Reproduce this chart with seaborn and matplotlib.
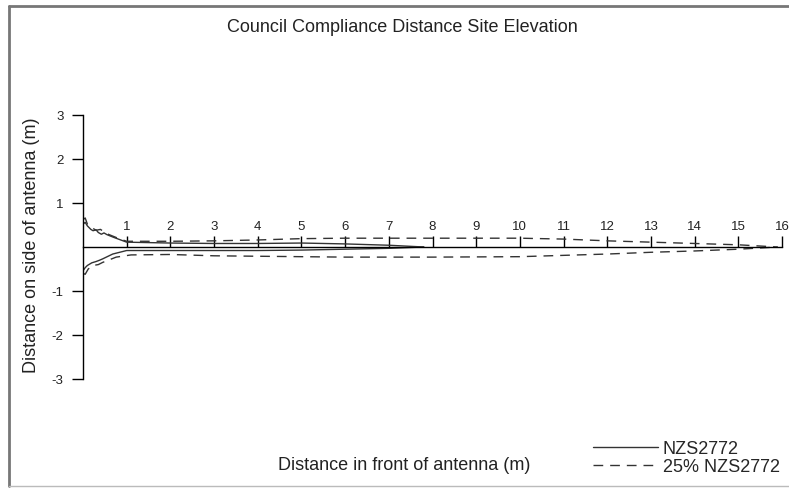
import numpy as np
import pandas as pd
import matplotlib
matplotlib.use("Agg")
import matplotlib.pyplot as plt
from matplotlib.lines import Line2D
import seaborn as sns

sns.set_style("white")
plt.rcParams['font.family'] = ['Liberation Sans', 'DejaVu Sans']
plt.rcParams['axes.unicode_minus'] = False

# NZS2772 compliance boundary (solid), upper and lower side of antenna
nzs_upper_x = [0, 0.05, 0.1, 0.18, 0.23, 0.3, 0.35, 0.42, 0.48, 0.55, 0.7, 1.0, 2, 3, 4, 5, 6, 7, 7.8]
nzs_upper_y = [0.52, 0.56, 0.48, 0.40, 0.37, 0.39, 0.33, 0.29, 0.32, 0.28, 0.22, 0.11, 0.09, 0.08, 0.08, 0.09, 0.07, 0.04, 0.0]
nzs_lower_x = [0, 0.05, 0.1, 0.2, 0.3, 0.38, 0.45, 0.68, 1.0, 2, 3, 4, 5, 6, 7, 7.8]
nzs_lower_y = [-0.54, -0.47, -0.42, -0.36, -0.33, -0.30, -0.27, -0.16, -0.08, -0.08, -0.08, -0.08, -0.07, -0.05, -0.03, 0.0]

# 25% NZS2772 boundary (dashed)
pct_upper_x = [0, 0.05, 0.1, 0.2, 0.3, 0.4, 0.5, 0.6, 0.85, 1.0, 2, 3, 4, 5, 6, 8, 10, 11, 12, 13, 14, 15, 15.9]
pct_upper_y = [0.62, 0.66, 0.52, 0.44, 0.38, 0.40, 0.33, 0.28, 0.18, 0.13, 0.13, 0.14, 0.16, 0.19, 0.20, 0.20, 0.20, 0.18, 0.14, 0.11, 0.08, 0.05, 0.0]
pct_lower_x = [0, 0.05, 0.12, 0.23, 0.35, 0.45, 0.76, 1.1, 2, 3, 4, 5, 6, 8, 10, 11, 12, 13, 14, 15, 15.9]
pct_lower_y = [-0.60, -0.62, -0.50, -0.42, -0.40, -0.35, -0.23, -0.18, -0.17, -0.20, -0.21, -0.22, -0.23, -0.23, -0.22, -0.19, -0.16, -0.12, -0.09, -0.05, 0.0]

x_ticks = list(range(1, 17))
y_ticks = [-3, -2, -1, 1, 2, 3]

fig = plt.figure(figsize=(7.89, 4.89), dpi=100)
ax = fig.add_axes([83/789, 1 - 424/489, (782 - 83)/789, 352/489])

line_col = "#333333"
dash = (0, (7, 5))
sns.lineplot(x=nzs_upper_x, y=nzs_upper_y, sort=False, estimator=None, color=line_col, lw=1, ax=ax, label="NZS2772")
sns.lineplot(x=nzs_lower_x, y=nzs_lower_y, sort=False, estimator=None, color=line_col, lw=1, ax=ax)
sns.lineplot(x=pct_upper_x, y=pct_upper_y, sort=False, estimator=None, color=line_col, lw=1, ls=dash, ax=ax, label="25% NZS2772")
sns.lineplot(x=pct_lower_x, y=pct_lower_y, sort=False, estimator=None, color=line_col, lw=1, ls=dash, ax=ax)

ax.set_xlim(0, 16)
ax.set_ylim(-4, 4)

# x axis sits at y = 0, ticks point up with labels above
ax.spines['bottom'].set_visible(False)
ax.spines['right'].set_visible(False)
ax.spines['top'].set_position(('data', 0))
ax.spines['top'].set_color('black')
ax.spines['top'].set_linewidth(1)
ax.spines['left'].set_bounds(-3, 3)
ax.spines['left'].set_color('black')
ax.spines['left'].set_linewidth(1)
ax.xaxis.tick_top()
ax.set_xticks(x_ticks)
ax.set_yticks(y_ticks)
ax.tick_params(axis='x', top=True, direction='out', length=8, width=1, color='black', labelsize=9.5, pad=3, labelcolor='#222222')
ax.tick_params(axis='y', left=True, direction='out', length=8, width=1, color='black', labelsize=9.5, pad=6, labelcolor='#222222')
ax.set_xlabel("")
ax.set_ylabel("")

fig.text(402/789, 1 - 28/489, "Council Compliance Distance Site Elevation", ha='center', va='center', fontsize=13, color='#222222')
fig.text(404/789, 1 - 466/489, "Distance in front of antenna (m)", ha='center', va='center', fontsize=13, color='#222222')
fig.text(32/789, 1 - 245/489, "Distance on side of antenna (m)", ha='center', va='center', rotation=90, fontsize=13, color='#222222')

ax.legend(loc='upper left', bbox_to_anchor=(593/789, 1 - 441/489), bbox_transform=fig.transFigure,
          frameon=False, fontsize=13, handlelength=3.6, handletextpad=0.25, labelspacing=0.05,
          borderpad=0, borderaxespad=0)

# outer frame of the picture
fig.add_artist(Line2D([9/789, 1], [1 - 7/489, 1 - 7/489], transform=fig.transFigure, color='#777777', lw=2))
fig.add_artist(Line2D([9/789, 9/789], [1 - 7/489, 1 - 487/489], transform=fig.transFigure, color='#777777', lw=2))
fig.add_artist(Line2D([9/789, 1], [1 - 487/489, 1 - 487/489], transform=fig.transFigure, color='#bbbbbb', lw=1))

fig.savefig("out.png", dpi=100)
